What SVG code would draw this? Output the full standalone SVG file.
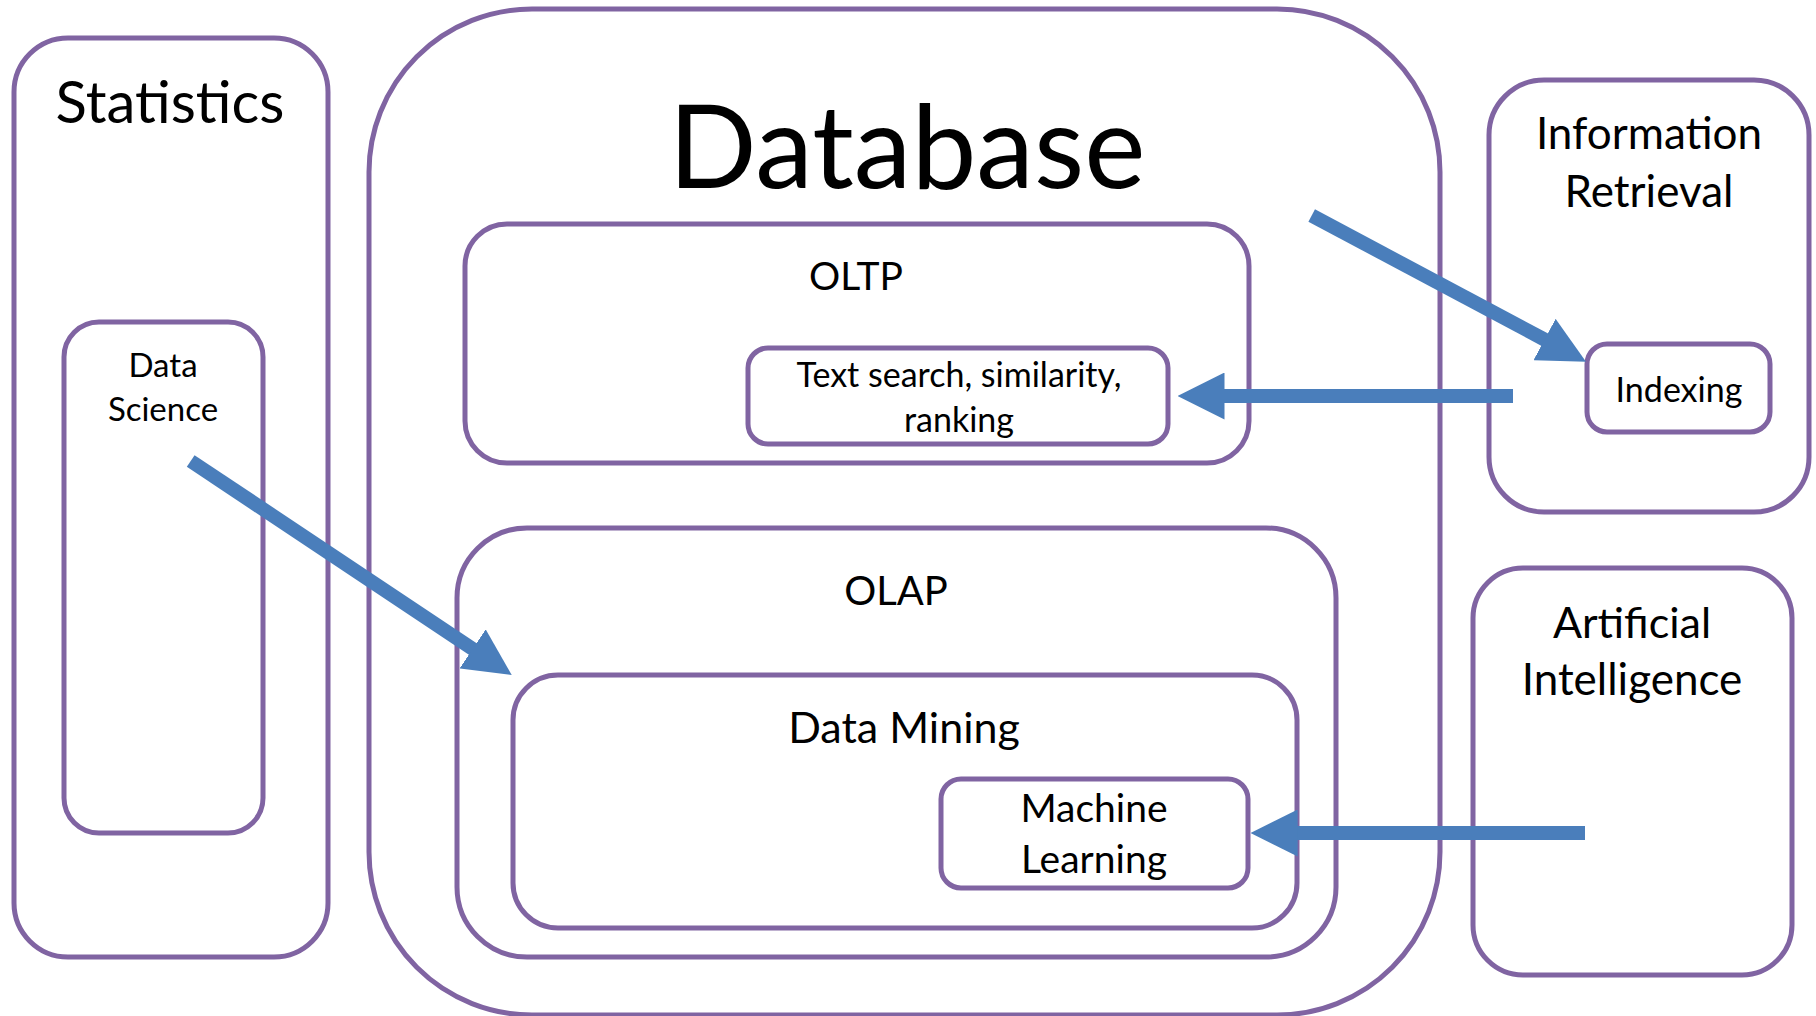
<svg xmlns="http://www.w3.org/2000/svg" width="1816" height="1016" viewBox="0 0 1816 1016">
<style>
.box{fill:none;stroke:#8064A2;stroke-width:5}
.t{font-family:Lato,"Open Sans","Liberation Sans",sans-serif;fill:#000;text-anchor:middle}
.arr{stroke:#4A7EBB;stroke-width:14;fill:none;marker-end:url(#head)}
</style>
<defs>
<marker id="head" markerUnits="userSpaceOnUse" viewBox="0 0 47 47" markerWidth="47" markerHeight="47" refX="2" refY="23.5" orient="auto">
<path d="M0,0 L47,23.5 L0,47 Z" fill="#4A7EBB"/>
</marker>
</defs>
<rect width="1816" height="1016" fill="#fff"/>
<g id="statistics">
<rect class="box" x="14" y="38" width="314" height="919" rx="54"/>
<text class="t" x="170" y="123" font-size="58">Statistics</text>
</g>
<g id="data-science">
<rect class="box" x="64" y="322" width="199" height="511" rx="35"/>
<text class="t" x="163" y="377" font-size="33">Data</text>
<text class="t" x="163" y="421" font-size="33">Science</text>
</g>
<g id="database">
<rect class="box" x="369" y="9" width="1071" height="1006" rx="163"/>
<text class="t" x="907" y="188" font-size="116">Database</text>
</g>
<g id="oltp">
<rect class="box" x="465" y="224" width="784" height="239" rx="42"/>
<text class="t" x="856" y="290" font-size="39">OLTP</text>
</g>
<g id="text-search">
<rect class="box" x="748" y="348" width="420" height="96" rx="20"/>
<text class="t" x="959" y="387" font-size="34">Text search, similarity,</text>
<text class="t" x="959" y="432" font-size="34">ranking</text>
</g>
<g id="olap">
<rect class="box" x="457" y="528" width="879" height="429" rx="70"/>
<text class="t" x="896" y="605" font-size="40">OLAP</text>
</g>
<g id="data-mining">
<rect class="box" x="513" y="675" width="784" height="253" rx="45"/>
<text class="t" x="904" y="743" font-size="43">Data Mining</text>
</g>
<g id="machine-learning">
<rect class="box" x="941" y="779" width="307" height="109" rx="20"/>
<text class="t" x="1094" y="822" font-size="39">Machine</text>
<text class="t" x="1094" y="873" font-size="39">Learning</text>
</g>
<g id="information-retrieval">
<rect class="box" x="1489" y="80" width="320" height="432" rx="55"/>
<text class="t" x="1649" y="149" font-size="44">Information</text>
<text class="t" x="1649" y="207" font-size="44">Retrieval</text>
</g>
<g id="indexing">
<rect class="box" x="1587" y="344" width="183" height="88" rx="20"/>
<text class="t" x="1679" y="402" font-size="34">Indexing</text>
</g>
<g id="artificial-intelligence">
<rect class="box" x="1473" y="568" width="319" height="407" rx="50"/>
<text class="t" x="1632" y="638" font-size="43">Artificial</text>
<text class="t" x="1632" y="695" font-size="44">Intelligence</text>
</g>
<g id="connectors">
<line class="arr" x1="190.7" y1="461" x2="474.3" y2="650"/>
<line class="arr" x1="1311.7" y1="215.5" x2="1546.3" y2="340.5"/>
<line class="arr" x1="1513" y1="396" x2="1222.5" y2="396"/>
<line class="arr" x1="1585" y1="833" x2="1295.7" y2="833"/>
</g>
</svg>
